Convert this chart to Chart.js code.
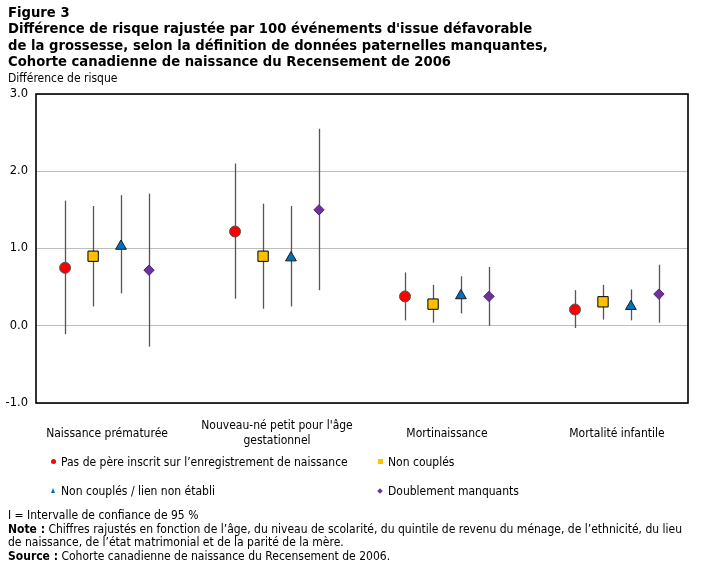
<!DOCTYPE html>
<html>
<head>
<meta charset="utf-8">
<script src="https://cdn.jsdelivr.net/npm/chart.js@4/dist/chart.umd.min.js"></script>
<style>
  body { margin: 0; background: #fff; }
  #wrap { position: relative; width: 703px; height: 569px; overflow: hidden; }
  #chart { position: absolute; left: 0; top: 0; }
  .txt { position: absolute; left: 8px; color: #000; font-family: "DejaVu Sans Condensed", "DejaVu Sans", sans-serif; font-size: 12px; white-space: nowrap; }
  #title { top: 5px; font-family: "DejaVu Sans", sans-serif; font-weight: bold; font-size: 13.2px; line-height: 16.3px; }
  #ylabel { top: 71px; line-height: 14px; }
  #notes { top: 509px; line-height: 13.5px; }
  .leg { position: absolute; font-family: "DejaVu Sans Condensed", "DejaVu Sans", sans-serif; font-size: 12px; line-height: 14px; white-space: nowrap; }
  .mk { position: absolute; }
</style>
</head>
<body>
<div id="wrap">
  <canvas id="chart" width="703" height="569"></canvas>
  <div id="title" class="txt">Figure 3<br>Différence de risque rajustée par 100 événements d'issue défavorable<br>de la grossesse, selon la définition de données paternelles manquantes,<br>Cohorte canadienne de naissance du Recensement de 2006</div>
  <div id="ylabel" class="txt">Différence de risque</div>
  <div id="legend"></div>
  <div id="notes" class="txt">I = Intervalle de confiance de 95 %<br><b>Note :</b> Chiffres rajustés en fonction de l’âge, du niveau de scolarité, du quintile de revenu du ménage, de l’ethnicité, du lieu<br>de naissance, de l’état matrimonial et de la parité de la mère.<br><b>Source :</b> Cohorte canadienne de naissance du Recensement de 2006.</div>
</div>
<script>
// categories along x
const categories = [
    "Naissance prématurée",
    ["Nouveau-né petit pour l'âge", "gestationnel"],
    "Mortinaissance",
    "Mortalité infantile"
];

const seriesNames = [
    "Pas de père inscrit sur l’enregistrement de naissance",
    "Non couplés",
    "Non couplés / lien non établi",
    "Doublement manquants"
];

// point estimates and 95% CI
const pereValues = [0.75, 1.22, 0.38, 0.21];
const pereLow = [-0.11, 0.35, 0.07, -0.03];
const pereHigh = [1.62, 2.10, 0.69, 0.46];

const nonCouplesValues = [0.90, 0.90, 0.28, 0.31];
const nonCouplesLow = [0.25, 0.22, 0.04, 0.08];
const nonCouplesHigh = [1.55, 1.58, 0.53, 0.53];

const lienValues = [1.03, 0.88, 0.39, 0.25];
const lienLow = [0.42, 0.25, 0.16, 0.07];
const lienHigh = [1.69, 1.55, 0.64, 0.47];

const doubleValues = [0.72, 1.50, 0.38, 0.41];
const doubleLow = [-0.27, 0.46, 0.00, 0.04];
const doubleHigh = [1.71, 2.55, 0.76, 0.79];

const yTicks = [-1, 0, 1, 2, 3];

const colors = ["#FF0000", "#FFC000", "#0070C0", "#7030A0"];
const borders = ["#555555", "#000000", "#1a1a1a", "#4a2070"];
const shapes = ["circle", "rect", "triangle", "rectRot"];
const radii = [5.5, 7.3, 6.2, 5.2];
const offsets = [-0.247, -0.082, 0.082, 0.247];

const allValues = [pereValues, nonCouplesValues, lienValues, doubleValues];
const allLow = [pereLow, nonCouplesLow, lienLow, doubleLow];
const allHigh = [pereHigh, nonCouplesHigh, lienHigh, doubleHigh];

const datasets = seriesNames.map((name, s) => ({
    label: name,
    data: allValues[s].map((v, i) => ({ x: i + offsets[s], y: v, lo: allLow[s][i], hi: allHigh[s][i] })),
    pointStyle: shapes[s],
    pointRadius: radii[s],
    backgroundColor: colors[s],
    borderColor: borders[s],
    borderWidth: 1
}));

// vertical CI lines, drawn under the markers
const errorBars = {
    id: "errorBars",
    beforeDatasetsDraw(chart) {
        const { ctx, scales } = chart;
        ctx.save();
        ctx.strokeStyle = "#555";
        ctx.lineWidth = 1.3;
        chart.data.datasets.forEach(ds => {
            ds.data.forEach(p => {
                const x = Math.round(scales.x.getPixelForValue(p.x)) + 0.5;
                ctx.beginPath();
                ctx.moveTo(x, scales.y.getPixelForValue(p.hi));
                ctx.lineTo(x, scales.y.getPixelForValue(p.lo));
                ctx.stroke();
            });
        });
        ctx.restore();
    }
};

// black frame round the plot
const frame = {
    id: "frame",
    afterDraw(chart) {
        const { ctx, chartArea: a } = chart;
        ctx.save();
        ctx.strokeStyle = "#000";
        ctx.lineWidth = 1.6;
        ctx.strokeRect(a.left, a.top, a.right - a.left, a.bottom - a.top);
        ctx.restore();
    }
};

new Chart(document.getElementById("chart"), {
    type: "scatter",
    data: { datasets: datasets },
    plugins: [errorBars, frame],
    options: {
        responsive: false,
        animation: false,
        layout: { padding: { top: 94, left: 0, right: 15, bottom: 116 } },
        plugins: { legend: { display: false }, tooltip: { enabled: false } },
        scales: {
            x: {
                type: "linear",
                min: -0.418,
                max: 3.418,
                afterBuildTicks: scale => { scale.ticks = categories.map((c, i) => ({ value: i })); },
                afterFit: scale => { scale.height = 50; },
                grid: { display: false, drawTicks: false },
                border: { display: false },
                ticks: {
                    callback: v => categories[v],
                    autoSkip: false,
                    maxRotation: 0,
                    crossAlign: "center",
                    padding: 23,
                    color: "#000",
                    font: { family: "'DejaVu Sans Condensed', 'DejaVu Sans', sans-serif", size: 12, lineHeight: 1.25 }
                }
            },
            y: {
                min: -1,
                max: 3,
                afterBuildTicks: scale => { scale.ticks = yTicks.map(v => ({ value: v })); },
                afterFit: scale => { scale.width = 36; },
                grid: { color: "#bdbdbd", lineWidth: 1, drawTicks: false },
                border: { display: false },
                ticks: {
                    callback: v => v.toFixed(1),
                    padding: 8,
                    color: "#000",
                    font: { family: "'DejaVu Sans', sans-serif", size: 11.5 }
                }
            }
        }
    }
});

// legend in two columns, as in the figure
const legendPos = [[53, 462], [380, 462], [53, 491], [380, 491]];
const legend = document.getElementById("legend");
seriesNames.forEach((name, s) => {
    const [x, y] = legendPos[s];
    const mk = document.createElement("div");
    mk.className = "mk";
    if (s === 0) {
        Object.assign(mk.style, { left: (x - 2) + "px", top: (y - 3) + "px", width: "5px", height: "5px", borderRadius: "50%", background: colors[0] });
    } else if (s === 1) {
        Object.assign(mk.style, { left: (x - 2) + "px", top: (y - 3) + "px", width: "5px", height: "5px", background: colors[1] });
    } else if (s === 2) {
        Object.assign(mk.style, { left: (x - 2) + "px", top: (y - 3) + "px", width: "0", height: "0", borderLeft: "2.5px solid transparent", borderRight: "2.5px solid transparent", borderBottom: "5px solid " + colors[2] });
    } else {
        Object.assign(mk.style, { left: (x - 2) + "px", top: (y - 2) + "px", width: "4px", height: "4px", background: colors[3], transform: "rotate(45deg)" });
    }
    legend.appendChild(mk);
    const t = document.createElement("div");
    t.className = "leg";
    t.style.left = (x + 8) + "px";
    t.style.top = (y - 7) + "px";
    t.textContent = name;
    legend.appendChild(t);
});
</script>
</body>
</html>
